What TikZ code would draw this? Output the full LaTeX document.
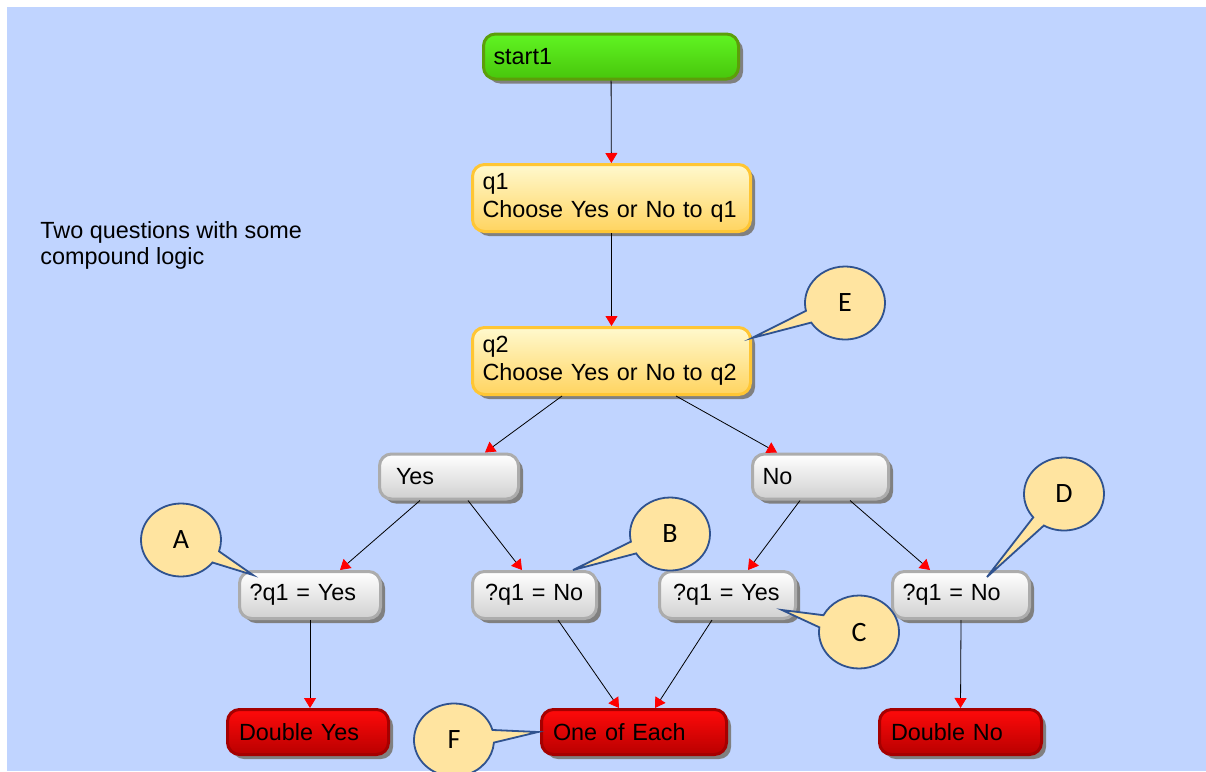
\documentclass[tikz,border=0pt]{standalone}
\usepackage{fontspec}
\setmainfont{Liberation Sans}
\newfontfamily\notefont{Carlito}
\usetikzlibrary{arrows.meta,shapes.callouts,shadows}

\definecolor{bgblue}{RGB}{192,212,255}
\definecolor{greenrim}{RGB}{92,158,10}
\definecolor{greentop}{RGB}{96,244,34}
\definecolor{greenbot}{RGB}{72,198,12}
\definecolor{goldrim}{RGB}{255,198,52}
\definecolor{goldtop}{RGB}{255,249,206}
\definecolor{goldbot}{RGB}{255,212,96}
\definecolor{greyrim}{RGB}{172,172,172}
\definecolor{greybot}{RGB}{208,208,208}
\definecolor{redrim}{RGB}{165,0,0}
\definecolor{redtop}{RGB}{255,10,10}
\definecolor{redbot}{RGB}{185,0,0}
\definecolor{noteblue}{RGB}{47,82,143}
\definecolor{notefill}{RGB}{255,228,160}

\begin{document}
\begin{tikzpicture}[x=1pt, y=-1pt, line width=0.8pt,
    >={Triangle[color=red, length=10pt, width=12pt]},
    box/.style = {rounded corners=12pt, line width=3pt, align=left, inner xsep=10pt, inner ysep=2pt,
                  minimum height=45pt, font=\fontsize{23.4}{28}\selectfont,
                  drop shadow={shadow xshift=4.5pt, shadow yshift=-4.5pt, fill=black!50, opacity=1}},
    start/.style = {box, draw=greenrim, top color=greentop, bottom color=greenbot},
    question/.style = {box, draw=goldrim, top color=goldtop, bottom color=goldbot, minimum height=67pt},
    branch/.style = {box, draw=greyrim, top color=white, bottom color=greybot},
    result/.style = {box, draw=redrim, top color=redtop, bottom color=redbot},
    note/.style = {ellipse callout, draw=noteblue, fill=notefill, line width=1.8pt,
                   minimum width=80pt, minimum height=73pt, callout pointer arc=20,
                   font=\notefont\fontsize{28}{28}\selectfont}]

    \useasboundingbox (0,0) rectangle (1206,771);
    \fill[bgblue] (7,7) rectangle (1206,771);

    \node[align=left, anchor=west, inner sep=0pt, font=\fontsize{23.4}{26}\selectfont] (title) at (40,245)
        {Two questions with some\\compound logic};

    % flow
    \node[start, text width=235pt] (start1) at (611,56.5) {start1};
    \node[question, text width=258pt] (q1) at (611.5,198) {q1\\Choose Yes or No to q1};
    \node[question, text width=258pt] (q2) at (611.5,361) {q2\\Choose Yes or No to q2};

    \node[branch, inner xsep=16.5pt, text width=106pt] (yes) at (449,476.5) {Yes};
    \node[branch, text width=116pt] (no) at (820.5,476.5) {No};

    \node[branch, minimum height=47pt, text width=121pt] (ayes) at (310,595) {?q1 = Yes};
    \node[branch, minimum height=47pt, inner xsep=12.5pt, text width=99pt] (bno) at (534.5,595) {?q1 = No};
    \node[branch, minimum height=47pt, inner xsep=13.5pt, text width=109pt] (cyes) at (727.5,595) {?q1 = Yes};
    \node[branch, minimum height=47pt, text width=117pt] (dno) at (961,595) {?q1 = No};

    \node[result, inner xsep=11.5pt, text width=138pt] (dyes) at (308,732) {Double Yes};
    \node[result, inner xsep=11.5pt, text width=162pt] (each) at (634,732) {One of Each};
    \node[result, inner xsep=11.5pt, text width=139pt] (dno2) at (960.5,732) {Double No};

    \path[->] (start1) edge (q1);
    \path[->] (q1) edge (q2);
    \path[->] ([xshift=-49.5pt]q2.south) edge ([xshift=36pt]yes.north);
    \path[->] ([xshift=64.5pt]q2.south) edge ([xshift=-43.5pt]no.north);
    \path[->] ([xshift=-29pt]yes.south) edge ([xshift=30pt]ayes.north);
    \path[->] ([xshift=19pt]yes.south) edge ([xshift=-12.5pt]bno.north);
    \path[->] ([xshift=-20.5pt]no.south) edge ([xshift=20.5pt]cyes.north);
    \path[->] ([xshift=29.5pt]no.south) edge ([xshift=-31pt]dno.north);
    \path[->] (ayes.south) edge ([xshift=2pt]dyes.north);
    \path[->] ([xshift=23.5pt]bno.south) edge ([xshift=-15pt]each.north);
    \path[->] ([xshift=-15.5pt]cyes.south) edge ([xshift=21pt]each.north);
    \path[->] (dno.south) edge (dno2.north);

    % callouts
    \node[note, callout absolute pointer={([yshift=-12pt]q2.north east)}] (E) at (845,303) {E};
    \node[note, callout absolute pointer={([xshift=15pt,yshift=-5pt]ayes.north west)}] (A) at (181,540) {A};
    \node[note, callout absolute pointer={([xshift=-25pt]bno.north east)}] (B) at (670,534) {B};
    \node[note, callout absolute pointer={([xshift=-15pt,yshift=10pt]cyes.south east)}] (C) at (859,632) {C};
    \node[note, callout absolute pointer={([xshift=26pt,yshift=-7pt]dno.north)}] (D) at (1064,494) {D};
    \node[note, callout absolute pointer={([xshift=-2pt]each.west)}] (F) at (454,740) {F};
\end{tikzpicture}
\end{document}
